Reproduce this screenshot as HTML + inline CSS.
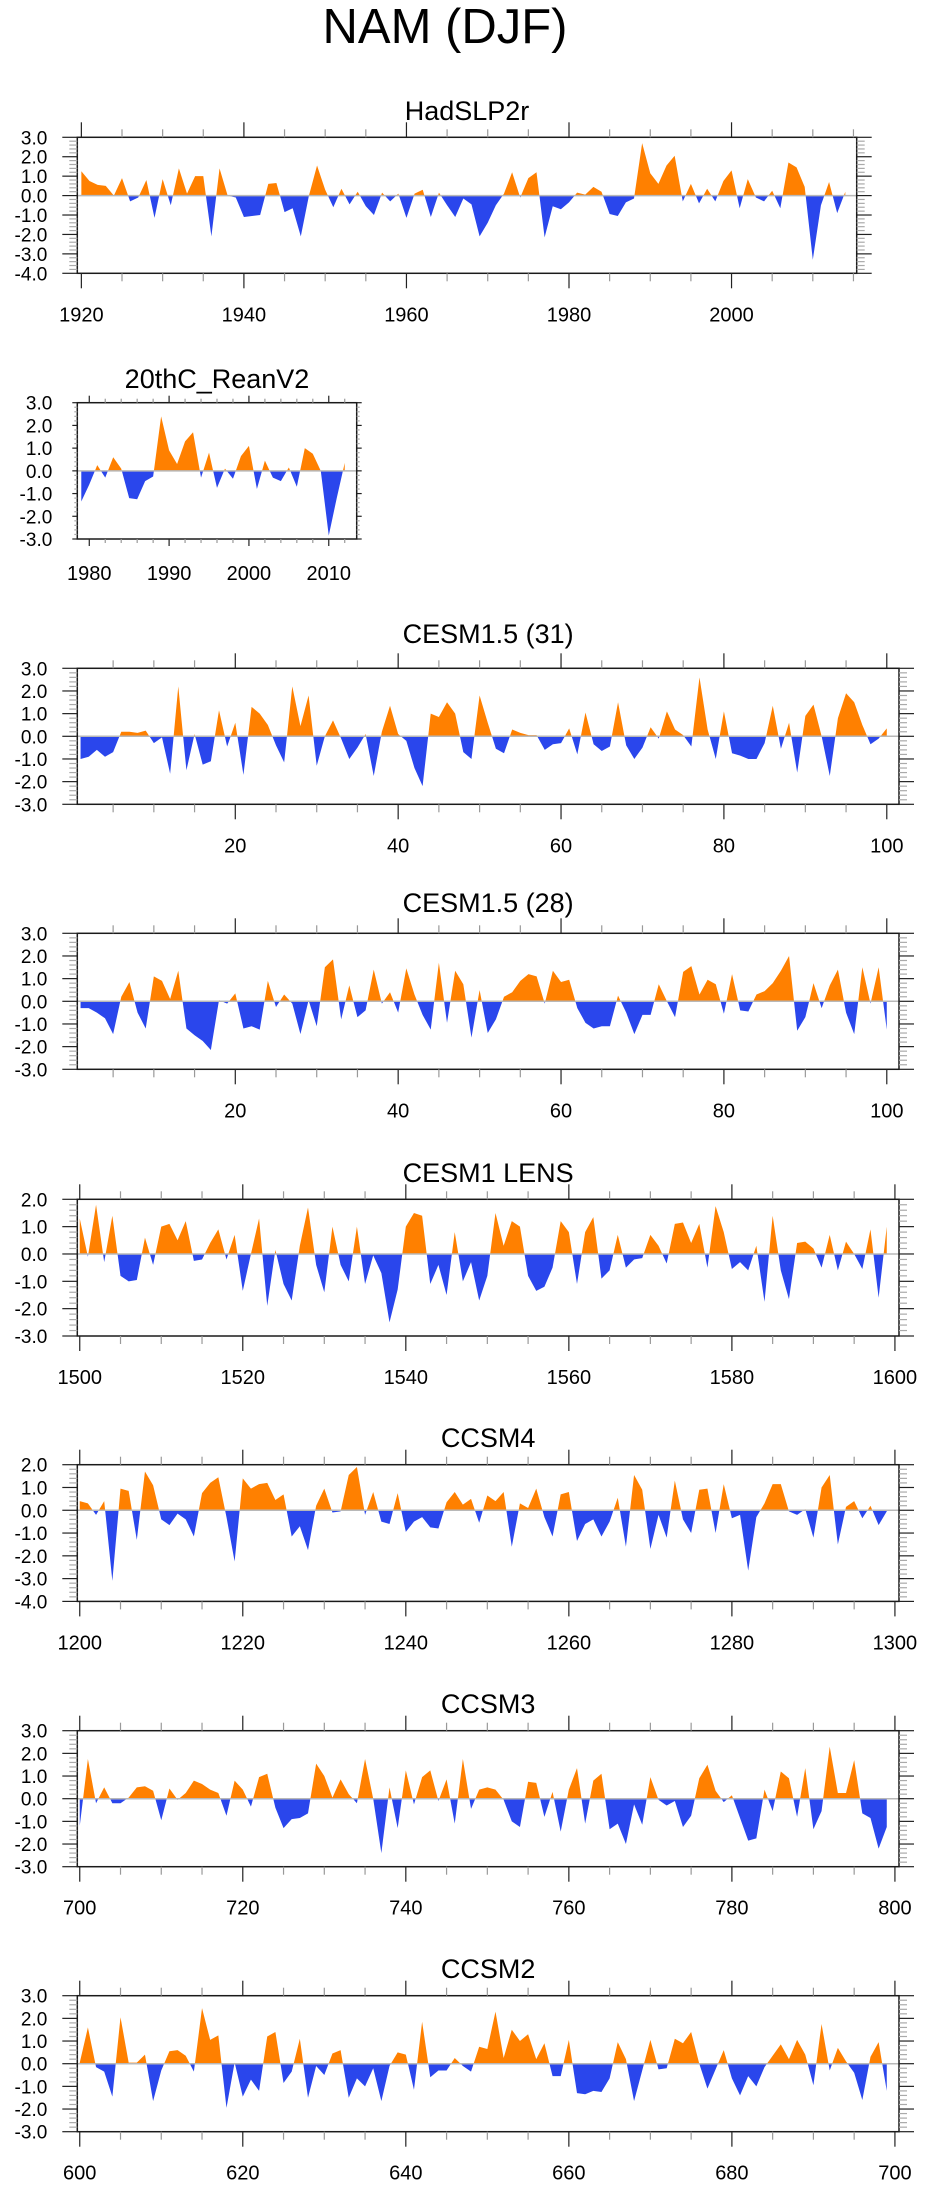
<!DOCTYPE html>
<html><head><meta charset="utf-8"><title>NAM (DJF)</title>
<style>
html,body{margin:0;padding:0;background:#fff;}
svg{display:block;font-family:"Liberation Sans",Arial,sans-serif;}
</style></head>
<body>
<svg id="chart" width="925" height="2190" viewBox="0 0 925 2190">
<text x="445" y="43" font-size="49" text-anchor="middle" fill="#000">NAM (DJF)</text>
</svg>
<script>
// ---- data arrays ----
const hadYears0 = 1920;
const hadValues = [1.25,0.75,0.55,0.5,0.0,0.9,-0.3,-0.1,0.8,-1.15,0.85,-0.5,1.4,0.1,1.0,1.0,-2.1,1.4,0.0,-0.1,-1.1,-1.05,-1.0,0.6,0.65,-0.85,-0.65,-2.1,0.0,1.55,0.3,-0.6,0.35,-0.45,0.2,-0.55,-1.0,0.15,-0.3,0.1,-1.15,0.1,0.3,-1.1,0.15,-0.5,-1.1,-0.15,-0.45,-2.1,-1.4,-0.5,0.1,1.2,-0.1,0.9,1.2,-2.15,-0.55,-0.7,-0.35,0.15,0.05,0.45,0.2,-0.95,-1.05,-0.35,-0.15,2.7,1.15,0.6,1.55,2.05,-0.3,0.6,-0.4,0.35,-0.3,0.75,1.3,-0.65,0.85,-0.1,-0.3,0.25,-0.65,1.7,1.45,0.45,-3.3,-0.5,0.7,-0.9,0.2];
const reanYears0 = 1979;
const reanValues = [-1.35,-0.6,0.25,-0.3,0.6,0.1,-1.2,-1.25,-0.45,-0.25,2.4,0.9,0.3,1.3,1.7,-0.3,0.8,-0.75,0.1,-0.35,0.65,1.1,-0.8,0.45,-0.3,-0.45,0.15,-0.7,1.0,0.75,0.0,-2.85,-1.2,0.35];
const cesm31Years0 = 1;
const cesm31Values = [-1.0,-0.9,-0.6,-0.9,-0.7,0.2,0.2,0.15,0.25,-0.3,-0.05,-1.65,2.2,-1.5,0.1,-1.25,-1.1,1.15,-0.45,0.6,-1.7,1.3,1.0,0.5,-0.4,-1.15,2.2,0.45,1.8,-1.3,0.0,0.7,-0.1,-1.0,-0.5,0.1,-1.75,0.2,1.35,0.1,-0.2,-1.4,-2.2,1.0,0.85,1.5,1.0,-0.7,-1.0,1.8,0.6,-0.55,-0.75,0.3,0.15,0.05,0.05,-0.6,-0.35,-0.3,0.35,-0.8,1.05,-0.35,-0.65,-0.45,1.5,-0.4,-1.0,-0.5,0.4,-0.1,1.1,0.3,0.05,-0.45,2.6,0.3,-1.0,1.1,-0.75,-0.85,-1.0,-1.0,-0.3,1.35,-0.55,0.6,-1.6,0.9,1.4,0.0,-1.75,0.8,1.9,1.5,0.5,-0.35,-0.1,0.35];
const cesm28Years0 = 1;
const cesm28Values = [-0.3,-0.3,-0.5,-0.75,-1.45,0.2,0.85,-0.5,-1.2,1.1,0.9,0.1,1.35,-1.2,-1.5,-1.75,-2.15,0.05,-0.1,0.35,-1.2,-1.1,-1.25,0.9,-0.25,0.3,-0.1,-1.45,0.05,-1.1,1.5,1.85,-0.8,0.7,-0.7,-0.4,1.4,-0.1,0.4,-0.5,1.45,0.3,-0.6,-1.25,1.7,-0.95,1.35,0.75,-1.6,0.5,-1.4,-0.8,0.2,0.4,0.9,1.2,1.1,-0.1,1.35,0.85,0.95,-0.3,-0.95,-1.2,-1.1,-1.1,0.25,-0.5,-1.45,-0.6,-0.6,0.75,0.0,-0.7,1.3,1.55,0.3,0.95,0.75,-0.55,1.2,-0.4,-0.45,0.3,0.45,0.8,1.35,2.0,-1.3,-0.7,0.8,-0.3,0.7,1.4,-0.5,-1.45,1.5,-0.1,1.5,-1.25];
const lensYears0 = 1500;
const lensValues = [1.3,-0.1,1.8,-0.3,1.4,-0.8,-1.0,-0.95,0.6,-0.4,1.0,1.1,0.5,1.2,-0.25,-0.2,0.4,0.9,-0.2,0.7,-1.35,0.0,1.3,-1.9,0.15,-1.1,-1.7,0.3,1.7,-0.4,-1.4,1.0,-0.4,-1.0,1.0,-1.1,-0.05,-0.7,-2.5,-1.3,1.0,1.5,1.4,-1.1,-0.4,-1.5,0.8,-1.0,-0.3,-1.7,-0.8,1.5,0.3,1.2,1.0,-0.8,-1.35,-1.2,-0.5,1.2,0.8,-1.1,0.8,1.35,-0.9,-0.6,0.7,-0.5,-0.2,-0.15,0.7,0.3,-0.35,1.1,1.15,0.4,1.1,-0.5,1.75,0.8,-0.55,-0.3,-0.6,0.3,-1.75,1.4,-0.6,-1.65,0.4,0.45,0.2,-0.5,0.7,-0.6,0.45,0.0,-0.55,0.9,-1.6,1.0];
const ccsm4Years0 = 1200;
const ccsm4Values = [0.4,0.3,-0.2,0.4,-3.1,0.95,0.85,-1.3,1.7,1.1,-0.4,-0.65,-0.15,-0.4,-1.15,0.75,1.2,1.45,-0.3,-2.25,1.4,0.95,1.15,1.2,0.45,0.7,-1.15,-0.7,-1.75,0.2,0.95,-0.1,-0.05,1.55,1.9,-0.2,0.8,-0.5,-0.6,0.75,-0.95,-0.5,-0.3,-0.75,-0.8,0.35,0.8,0.25,0.5,-0.55,0.65,0.4,0.8,-1.6,0.3,0.1,0.95,-0.3,-1.15,0.7,0.8,-1.35,-0.6,-0.4,-1.15,-0.5,0.55,-1.6,1.55,0.9,-1.7,-0.2,-1.2,1.3,-0.4,-1.0,0.9,0.95,-1.0,1.15,-0.35,-0.2,-2.65,-0.3,0.3,1.15,1.15,-0.05,-0.2,0.05,-1.2,1.0,1.55,-1.5,0.15,0.4,-0.35,0.2,-0.65,-0.05];
const ccsm3Years0 = 700;
const ccsm3Values = [-1.2,1.75,-0.2,0.5,-0.2,-0.2,0.05,0.5,0.55,0.35,-0.95,0.45,-0.05,0.25,0.8,0.65,0.4,0.25,-0.75,0.8,0.4,-0.35,0.95,1.1,-0.4,-1.3,-0.9,-0.85,-0.65,1.55,1.0,0.05,0.85,0.2,-0.2,1.75,0.0,-2.4,0.5,-1.3,1.25,-0.25,0.95,1.25,-0.1,0.85,-1.1,1.75,-0.45,0.4,0.5,0.4,-0.05,-1.0,-1.25,0.75,0.7,-0.8,0.3,-1.45,0.4,1.35,-1.1,0.8,1.1,-1.35,-1.1,-2.0,-0.25,-1.15,0.95,-0.05,-0.3,-0.1,-1.25,-0.75,0.9,1.5,0.35,-0.15,0.15,-0.85,-1.85,-1.75,0.4,-0.55,1.2,0.9,-0.8,1.35,-1.35,-0.55,2.3,0.25,0.25,1.7,-0.65,-0.85,-2.2,-1.25];
const ccsm2Years0 = 600;
const ccsm2Values = [0.05,1.6,-0.15,-0.35,-1.45,2.05,0.05,0.05,0.4,-1.65,-0.3,0.55,0.6,0.35,-0.35,2.45,1.05,1.25,-1.95,0.05,-1.45,-0.7,-1.2,1.2,1.4,-0.85,-0.35,1.1,-1.5,-0.1,-0.5,0.45,0.6,-1.5,-0.65,-1.0,-0.2,-1.65,-0.1,0.5,0.4,-1.15,1.85,-0.6,-0.3,-0.3,0.25,-0.1,-0.35,0.75,0.65,2.3,0.25,1.5,1.0,1.3,0.2,0.9,-0.55,-0.55,1.05,-1.3,-1.35,-1.2,-1.25,-0.65,0.95,0.2,-1.65,-0.3,1.05,-0.25,-0.2,1.1,0.9,1.4,0.0,-1.1,-0.25,0.6,-0.65,-1.4,-0.55,-1.0,-0.15,0.35,0.85,0.2,1.05,0.4,-0.95,1.75,-0.3,0.7,0.1,-0.4,-1.6,0.3,0.95,-1.2];

// ---- panel definitions ----
const panels = [
 {name:'hadslp2r',title:'HadSLP2r',vals:hadValues,x0:hadYears0,left:77.3,right:856.7,top:137.3,h:136,xmin:1919.5,xmax:2015.4,ymin:-4,ymax:3,major:20,minor:5,labStart:1920,labEnd:2000,titleY:120,tickMaj:15,tickMin:8,yMaj:15,yMin:8,labGap:30,xlabY:48},
 {name:'20thc-reanv2',title:'20thC_ReanV2',vals:reanValues,x0:reanYears0,left:77.3,right:356.7,top:402.7,h:136.3,xmin:1978.5,xmax:2013.5,ymin:-3,ymax:3,major:10,minor:2,labStart:1980,labEnd:2010,titleY:388,tickMaj:7,tickMin:4,yMaj:5,yMin:3,labGap:25,xlabY:41},
 {name:'cesm15-31',title:'CESM1.5 (31)',vals:cesm31Values,x0:cesm31Years0,left:77.3,right:899,top:668.3,h:136,xmin:0.6,xmax:101.5,ymin:-3,ymax:3,major:20,minor:5,labStart:20,labEnd:100,titleY:643,tickMaj:15,tickMin:8,yMaj:15,yMin:8,labGap:30,xlabY:48},
 {name:'cesm15-28',title:'CESM1.5 (28)',vals:cesm28Values,x0:cesm28Years0,left:77.3,right:899,top:933.3,h:136,xmin:0.6,xmax:101.5,ymin:-3,ymax:3,major:20,minor:5,labStart:20,labEnd:100,titleY:912,tickMaj:15,tickMin:8,yMaj:15,yMin:8,labGap:30,xlabY:48},
 {name:'cesm1-lens',title:'CESM1 LENS',vals:lensValues,x0:lensYears0,left:77.3,right:899,top:1199.3,h:136.7,xmin:1499.7,xmax:1600.5,ymin:-3,ymax:2,major:20,minor:5,labStart:1500,labEnd:1600,titleY:1182,tickMaj:15,tickMin:8,yMaj:15,yMin:8,labGap:30,xlabY:48},
 {name:'ccsm4',title:'CCSM4',vals:ccsm4Values,x0:ccsm4Years0,left:77.3,right:899,top:1464.7,h:136.7,xmin:1199.7,xmax:1300.5,ymin:-4,ymax:2,major:20,minor:5,labStart:1200,labEnd:1300,titleY:1447,tickMaj:15,tickMin:8,yMaj:15,yMin:8,labGap:30,xlabY:48},
 {name:'ccsm3',title:'CCSM3',vals:ccsm3Values,x0:ccsm3Years0,left:77.3,right:899,top:1730.7,h:136,xmin:699.7,xmax:800.5,ymin:-3,ymax:3,major:20,minor:5,labStart:700,labEnd:800,titleY:1713,tickMaj:15,tickMin:8,yMaj:15,yMin:8,labGap:30,xlabY:48},
 {name:'ccsm2',title:'CCSM2',vals:ccsm2Values,x0:ccsm2Years0,left:77.3,right:899,top:1995.7,h:136,xmin:599.7,xmax:700.5,ymin:-3,ymax:3,major:20,minor:5,labStart:600,labEnd:700,titleY:1978,tickMaj:15,tickMin:8,yMaj:15,yMin:8,labGap:30,xlabY:48}
];

const NS='http://www.w3.org/2000/svg';
const svg=document.getElementById('chart');
function mk(tag,attrs,parent){const e=document.createElementNS(NS,tag);for(const k in attrs)e.setAttribute(k,attrs[k]);(parent||svg).appendChild(e);return e;}

panels.forEach((p,pi)=>{
  const g=mk('g',{});
  
  
  const xs=v=>p.left+(v-p.xmin)/(p.xmax-p.xmin)*(p.right-p.left);
  const ys=v=>p.top+(p.ymax-v)/(p.ymax-p.ymin)*p.h;
  const bottom=p.top+p.h;
  const zy=ys(0);
  // clip paths
  const defs=mk('defs',{},g);
  const ca=mk('clipPath',{id:'ca'+pi},defs);
  mk('rect',{x:p.left,y:p.top,width:p.right-p.left,height:zy-p.top},ca);
  const cb=mk('clipPath',{id:'cb'+pi},defs);
  mk('rect',{x:p.left,y:zy,width:p.right-p.left,height:bottom-zy},cb);
  // area polygon
  let d='M'+xs(p.x0).toFixed(2)+','+zy.toFixed(2);
  p.vals.forEach((v,i)=>{d+=' L'+xs(p.x0+i).toFixed(2)+','+ys(v).toFixed(2);});
  d+=' L'+xs(p.x0+p.vals.length-1).toFixed(2)+','+zy.toFixed(2)+' Z';
  const pos=mk('path',{d:d,fill:'#ff8000','clip-path':'url(#ca'+pi+')'},g);
  
  
  const neg=mk('path',{d:d,fill:'#2a46ec','clip-path':'url(#cb'+pi+')'},g);
  
  
  // zero line
  const zl=mk('line',{x1:p.left,x2:p.right,y1:zy,y2:zy,stroke:'#b8b8b8','stroke-width':1.5},g);
  
  
  // frame
  const fr=mk('rect',{x:p.left,y:p.top,width:p.right-p.left,height:p.h,fill:'none',stroke:'#1a1a1a','stroke-width':1.5},g);
  
  
  // x ticks
  const tk=mk('g',{stroke:'#222','stroke-width':1.2},g);
  
  
  const firstMinor=Math.ceil(p.xmin/p.minor)*p.minor;
  for(let t=firstMinor;t<=p.xmax;t+=p.minor){
    const isMaj=Math.abs(t/p.major-Math.round(t/p.major))<1e-6;
    const L=isMaj?p.tickMaj:p.tickMin;
    const x=xs(t);
    mk('line',{x1:x,x2:x,y1:p.top,y2:p.top-L,stroke:isMaj?'#222':'#999'},tk);
    mk('line',{x1:x,x2:x,y1:bottom,y2:bottom+L,stroke:isMaj?'#222':'#999'},tk);
  }
  // x labels
  for(let t=p.labStart;t<=p.labEnd;t+=p.major){
    const lb=mk('text',{x:xs(t),y:bottom+p.xlabY,'font-size':20,'text-anchor':'middle',fill:'#000'},g);
    lb.textContent=String(t);
    
    
  }
  // y ticks
  const ytk=mk('g',{'stroke-width':1.2},g);
  
  
  const n=Math.round((p.ymax-p.ymin)/0.2);
  for(let k=0;k<=n;k++){
    const v=p.ymin+k*0.2;
    const isMaj=k%5===0;
    const L=isMaj?p.yMaj:p.yMin;
    const y=ys(v);
    mk('line',{x1:p.left,x2:p.left-L,y1:y,y2:y,stroke:isMaj?'#222':'#aaa'},ytk);
    mk('line',{x1:p.right,x2:p.right+L,y1:y,y2:y,stroke:isMaj?'#222':'#aaa'},ytk);
  }
  for(let v=p.ymax;v>=p.ymin;v-=1){
    const lb=mk('text',{x:p.left-p.labGap,y:ys(v)+7,'font-size':19,'text-anchor':'end',fill:'#000'},g);
    lb.textContent=v.toFixed(1);
    
    
  }
  // title
  const tt=mk('text',{x:(p.left+p.right)/2,y:p.titleY,'font-size':27,'text-anchor':'middle',fill:'#000'},g);
  tt.textContent=p.title;
  
  
});
</script>
</body></html>
